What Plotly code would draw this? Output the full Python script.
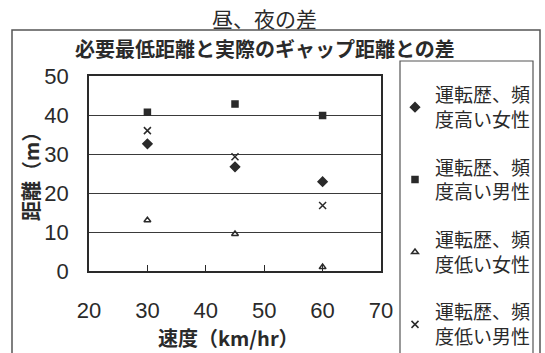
import plotly.graph_objects as go

# Speed (km/hr) and gap-distance difference (m) for each driver group
speed = [30, 45, 60]
high_female = [32.6, 26.7, 22.9]
high_male = [40.7, 42.8, 39.9]
low_female = [13.0, 9.5, 1.0]
low_male = [36.0, 29.3, 16.8]

names = [
    "運転歴、頻<br>度高い女性",
    "運転歴、頻<br>度高い男性",
    "運転歴、頻<br>度低い女性",
    "運転歴、頻<br>度低い男性",
]
series = [high_female, high_male, low_female, low_male]
symbols = ["diamond", "square", "triangle-up-open", "x-thin-open"]
sizes = [7, 6, 6, 7]

x_ticks = [20, 30, 40, 50, 60, 70]
y_ticks = [0, 10, 20, 30, 40, 50]

W, H = 545, 353
L, R, T, B = 89, 381, 76, 271  # plot area in pixels

JP = "Noto Sans CJK JP"
NUM = "Liberation Sans"
INK = "#2a2a2a"

fig = go.Figure()
for nm, ys, sym, sz in zip(names, series, symbols, sizes):
    fig.add_trace(go.Scatter(
        x=speed, y=ys, mode="markers", name=nm, legendgroup=nm,
        marker=dict(symbol=sym, size=sz, color=INK,
                    line=dict(color=INK, width=1.5)),
    ))


def px(xp):
    return (xp - L) / (R - L)


def py(yp):
    return (B - yp) / (B - T)


def label(text, x, y, size, angle=0):
    return dict(text=text, xref="paper", yref="paper", x=px(x), y=py(y),
                xanchor="center", yanchor="middle", showarrow=False,
                textangle=angle, font=dict(family=JP, size=size, color=INK))


fig.update_layout(
    width=W, height=H,
    margin=dict(l=L, r=W - R, t=T, b=H - B, pad=0, autoexpand=False),
    paper_bgcolor="white", plot_bgcolor="white",
    showlegend=True,
    legend=dict(
        x=px(395), y=py(76), xanchor="left", yanchor="top",
        font=dict(family=JP, size=19, color=INK),
        tracegroupgap=20, itemwidth=30, bgcolor="rgba(0,0,0,0)",
        borderwidth=0, maxheight=900,
    ),
    xaxis=dict(
        range=[20, 70], tickvals=x_ticks, ticktext=[str(v) for v in x_ticks],
        ticks="inside", ticklen=6, tickcolor=INK, tickwidth=1,
        showgrid=False, zeroline=False,
        showline=True, linecolor=INK, linewidth=1.5, mirror=True,
        tickfont=dict(family=NUM, size=22, color=INK),
        ticklabelstandoff=19,
    ),
    yaxis=dict(
        range=[0, 50], tickvals=y_ticks, ticktext=[str(v) for v in y_ticks],
        ticks="", showgrid=True, gridcolor="#3a3a3a", gridwidth=1.2,
        zeroline=False,
        showline=True, linecolor=INK, linewidth=1.5, mirror=True,
        tickfont=dict(family=NUM, size=22, color=INK),
        ticklabelstandoff=14,
    ),
    shapes=[
        # outer chart frame
        dict(type="rect", xref="paper", yref="paper",
             x0=px(12), x1=px(540), y0=py(370), y1=py(30),
             line=dict(color="#555", width=1.5), layer="below"),
        # legend frame
        dict(type="rect", xref="paper", yref="paper",
             x0=px(400), x1=px(533), y0=py(370), y1=py(61),
             line=dict(color="#555", width=1.2), layer="below"),
    ],
    annotations=[
        label("昼、夜の差", 264, 18, 21),
        label("<b>必要最低距離と実際のギャップ距離との差</b>", 265, 48, 20),
        label("<b>速度（km/hr）</b>", 228, 337, 20),
        label("<b>距離（m）</b>", 30, 172, 20, angle=-90),
    ],
)

fig.write_html("out.html")
